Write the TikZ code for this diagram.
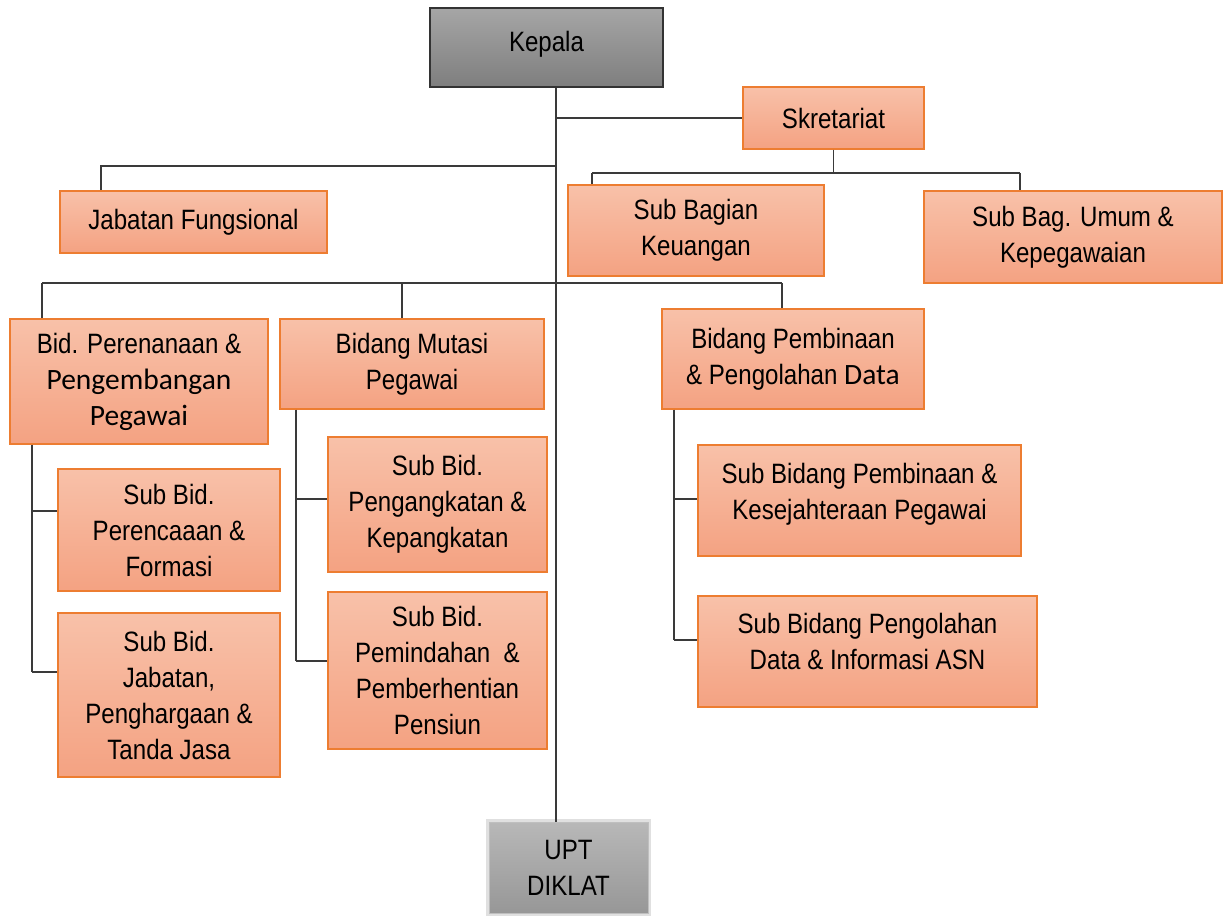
\documentclass[tikz,border=0pt]{standalone}
\usepackage{fontspec}
\setmainfont{Liberation Sans}[FakeStretch=0.86]
\newfontfamily\calfont{Carlito}
\definecolor{otop}{HTML}{F8C1A9}
\definecolor{obot}{HTML}{F4A282}
\definecolor{oedge}{HTML}{ED7D31}
\definecolor{gtop}{HTML}{A6A6A6}
\definecolor{gbot}{HTML}{7E7E7E}
\definecolor{utop}{HTML}{B8B8B8}
\definecolor{ubot}{HTML}{979797}
\definecolor{linec}{HTML}{3A3A3A}
\newcommand\calt[1]{{\calfont\fontsize{29.5}{37}\selectfont #1}}
\begin{document}
\begin{tikzpicture}[x=1pt,y=-1pt,
  txt/.style={align=center, font=\fontsize{28}{36}\selectfont, inner sep=0pt, text=black},
  obox/.style={txt, draw=oedge, line width=1.2pt, top color=otop, bottom color=obot},
  gbox/.style={txt, draw=black!80, line width=1.2pt, top color=gtop, bottom color=gbot},
  ubox/.style={txt, draw=black!25, line width=1pt, top color=utop, bottom color=ubot},
  conn/.style={draw=linec, line width=1.5pt},
  mainconn/.style={draw=linec, line width=2pt}]
\useasboundingbox (0,0) rectangle (1224,920);

% boxes
\node[gbox, minimum width=233pt, minimum height=79pt] (kep) at (546.5,47.5) {Kepala\\[-24pt]};
\node[obox, minimum width=181pt, minimum height=62pt] (skr) at (833.5,118) {Skretariat};
\node[obox, minimum width=256pt, minimum height=91pt] (sbk) at (696,230.5) {Sub Bagian\\Keuangan};
\node[obox, minimum width=298pt, minimum height=92pt] (sbu) at (1073,237) {Sub Bag. Umum \&\\Kepegawaian};
\node[obox, minimum width=267pt, minimum height=62pt] (jf) at (193.5,222) {Jabatan Fungsional};
\node[obox, minimum width=258pt, minimum height=125pt] (bpp) at (139,381.5) {Bid. Perenanaan \&\\\calt{Pengembangan}\\\calt{Pegawai}};
\node[obox, minimum width=264pt, minimum height=90pt] (bmp) at (412,364) {Bidang Mutasi\\Pegawai};
\node[obox, minimum width=262pt, minimum height=100pt] (bpd) at (793,359) {Bidang Pembinaan\\\& Pengolahan \calt{Data}};
\node[obox, minimum width=222pt, minimum height=122pt] (sp1) at (169,530) {Sub Bid.\\Perencaaan \&\\Formasi};
\node[obox, minimum width=222pt, minimum height=164pt] (sp2) at (169,695) {Sub Bid.\\Jabatan,\\Penghargaan \&\\Tanda Jasa};
\node[obox, minimum width=219pt, minimum height=135pt] (sm1) at (437.5,504.5) {Sub Bid.\\Pengangkatan \&\\Kepangkatan};
\node[obox, minimum width=219pt, minimum height=157pt] (sm2) at (437.5,670.5) {Sub Bid.\\Pemindahan\ \ \&\\Pemberhentian\\Pensiun};
\node[obox, minimum width=323pt, minimum height=111pt] (sd1) at (859.5,500.5) {Sub Bidang Pembinaan \&\\Kesejahteraan Pegawai\\[-17pt]};
\node[obox, minimum width=339pt, minimum height=111pt] (sd2) at (867.5,651.5) {Sub Bidang Pengolahan\\Data \& Informasi ASN\\[-15pt]};
\fill[black!12] (486,819) rectangle (651,916);
\node[ubox, minimum width=159pt, minimum height=91pt] (upt) at (568.5,867.5) {UPT\\DIKLAT};

% reference coordinates
\coordinate (sp) at (556,0);
\coordinate (b1) at (592,173);
\coordinate (b2) at (1020,173);
\coordinate (j1) at (101,166);
\coordinate (r1) at (42,283);
\coordinate (r2) at (402,283);
\coordinate (r3) at (782,283);
\coordinate (lb1) at (32,511);
\coordinate (lb2) at (32,672);
\coordinate (mb1) at (296,499);
\coordinate (mb2) at (296,661);
\coordinate (db1) at (674,499);
\coordinate (db2) at (674,640);

% connectors
\draw[mainconn] (kep.south -| sp) -- (upt.north -| sp);
\draw[conn] (skr.west -| sp) -- (skr.west);
\draw[conn] (skr.south) -- (skr.south |- b1);
\draw[conn] (b1) -- (b2);
\draw[conn] (b1) -- (b1 |- sbk.north);
\draw[conn] (b2) -- (b2 |- sbu.north);
\draw[conn] (j1 -| sp) -- (j1) -- (j1 |- jf.north);
\draw[conn] (r1) -- (r3);
\draw[conn] (r1) -- (r1 |- bpp.north);
\draw[conn] (r2) -- (r2 |- bmp.north);
\draw[conn] (r3) -- (r3 |- bpd.north);
\draw[conn] (lb1 |- bpp.south) -- (lb2);
\draw[conn] (lb1) -- (lb1 -| sp1.west);
\draw[conn] (lb2) -- (lb2 -| sp2.west);
\draw[conn] (mb1 |- bmp.south) -- (mb2);
\draw[conn] (mb1) -- (mb1 -| sm1.west);
\draw[conn] (mb2) -- (mb2 -| sm2.west);
\draw[conn] (db1 |- bpd.south) -- (db2);
\draw[conn] (db1) -- (db1 -| sd1.west);
\draw[conn] (db2) -- (db2 -| sd2.west);
\end{tikzpicture}
\end{document}
